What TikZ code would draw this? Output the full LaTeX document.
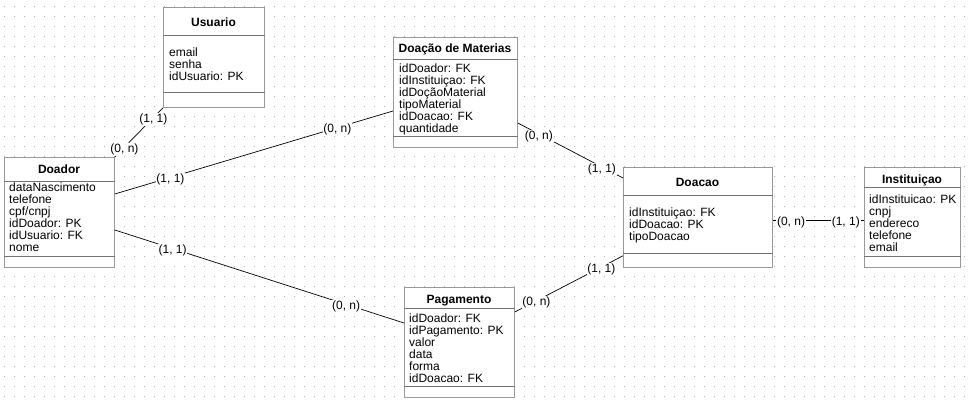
\documentclass[tikz,border=0pt]{standalone}
\usepackage{fontspec}
\setmainfont{Liberation Sans}

\begin{document}
\begin{tikzpicture}[
  x=1pt, y=-1pt,
  font=\fontsize{12}{12}\selectfont,
  ent/.style={draw=black!40, fill=white, line width=0.8pt, anchor=north west, inner sep=0pt},
  sep/.style={draw=black!55, line width=0.8pt},
  ttl/.style={font=\fontsize{12}{12}\selectfont\bfseries, anchor=base, inner sep=0pt},
  attr/.style={align=left, anchor=base west, inner sep=0pt},
  rel/.style={draw=black, line width=0.7pt},
  card/.style={fill=white, inner sep=0.8pt, yshift=-2pt}
]
\useasboundingbox[fill=white] (0,0) rectangle (969,401);
% dotted grid
\foreach \i in {0,...,96}
  \foreach \j in {0,...,39}
    \fill[black!30] (4+10*\i,6+10*\j) rectangle ++(1,1);

% Usuario
\node[ent, minimum width=101pt, minimum height=100pt] (usuario) at (163,7) {};
\draw[sep] ([yshift=-28pt]usuario.north west) -- ([yshift=-28pt]usuario.north east);
\draw[sep] ([yshift=-85pt]usuario.north west) -- ([yshift=-85pt]usuario.north east);
\node[ttl] (usuarioT) at (213.5,27) {Usuario};
\node[attr] (usuarioA) at (169,81) {email\\senha\\idUsuario: PK};

% Doador
\node[ent, minimum width=110pt, minimum height=110pt] (doador) at (4,157) {};
\draw[sep] ([yshift=-24pt]doador.north west) -- ([yshift=-24pt]doador.north east);
\draw[sep] ([yshift=-99pt]doador.north west) -- ([yshift=-99pt]doador.north east);
\node[ttl] (doadorT) at (59,173.5) {Doador};
\node[attr] (doadorA) at (9,251.5) {dataNascimento\\telefone\\cpf/cnpj\\idDoador: PK\\idUsuario: FK\\nome};

% Doacao de Materias
\node[ent, minimum width=124pt, minimum height=110pt] (materias) at (393,37) {};
\draw[sep] ([yshift=-22pt]materias.north west) -- ([yshift=-22pt]materias.north east);
\draw[sep] ([yshift=-99pt]materias.north west) -- ([yshift=-99pt]materias.north east);
\node[ttl] (materiasT) at (455,53) {Doação de Materias};
\node[attr] (materiasA) at (399,132.5) {idDoador: FK\\idInstituiçao: FK\\idDoçãoMaterial\\tipoMaterial\\idDoacao: FK\\quantidade};

% Doacao
\node[ent, minimum width=149pt, minimum height=100pt] (doacao) at (623,167) {};
\draw[sep] ([yshift=-28pt]doacao.north west) -- ([yshift=-28pt]doacao.north east);
\draw[sep] ([yshift=-86pt]doacao.north west) -- ([yshift=-86pt]doacao.north east);
\node[ttl] (doacaoT) at (697.5,186.5) {Doacao};
\node[attr] (doacaoA) at (629,240.5) {idInstituiçao: FK\\idDoacao: PK\\tipoDoacao};

% Instituicao
\node[ent, minimum width=96pt, minimum height=100pt] (inst) at (864,167) {};
\draw[sep] ([yshift=-20pt]inst.north west) -- ([yshift=-20pt]inst.north east);
\draw[sep] ([yshift=-89pt]inst.north west) -- ([yshift=-89pt]inst.north east);
\node[ttl] (instT) at (912,183) {Instituiçao};
\node[attr] (instA) at (869,251) {idInstituicao: PK\\cnpj\\endereco\\telefone\\email};

% Pagamento
\node[ent, minimum width=110pt, minimum height=110pt] (pagamento) at (404,287) {};
\draw[sep] ([yshift=-21pt]pagamento.north west) -- ([yshift=-21pt]pagamento.north east);
\draw[sep] ([yshift=-99pt]pagamento.north west) -- ([yshift=-99pt]pagamento.north east);
\node[ttl] (pagamentoT) at (459,303) {Pagamento};
\node[attr] (pagamentoA) at (409,382) {idDoador: FK\\idPagamento: PK\\valor\\data\\forma\\idDoacao: FK};

% relacoes
\draw[rel] (usuario.south west) -- node[card, pos=0.2] (uA) {(1, 1)} node[card, pos=0.8] (uB) {(0, n)} (doador.north east);
\draw[rel] ([yshift=-37pt]doador.north east) -- node[card, pos=0.2] (dmA) {(1, 1)} node[card, pos=0.8] (dmB) {(0, n)} ([yshift=-74pt]materias.north west);
\draw[rel] ([yshift=-73pt]doador.north east) -- node[card, pos=0.2] (dpA) {(1, 1)} node[card, pos=0.8] (dpB) {(0, n)} ([yshift=-36pt]pagamento.north west);
\draw[rel] ([yshift=-86pt]materias.north east) -- node[card, pos=0.2] (mdA) {(0, n)} node[card, pos=0.8] (mdB) {(1, 1)} ([yshift=-11pt]doacao.north west);
\draw[rel] ([yshift=-25pt]pagamento.north east) -- node[card, pos=0.2] (pdA) {(0, n)} node[card, pos=0.8] (pdB) {(1, 1)} ([yshift=12pt]doacao.south west);
\draw[rel] ([yshift=-3pt]doacao.east) -- node[card, pos=0.2] (diA) {(0, n)} node[card, pos=0.8] (diB) {(1, 1)} ([yshift=-3pt]inst.west);
\end{tikzpicture}
\end{document}
